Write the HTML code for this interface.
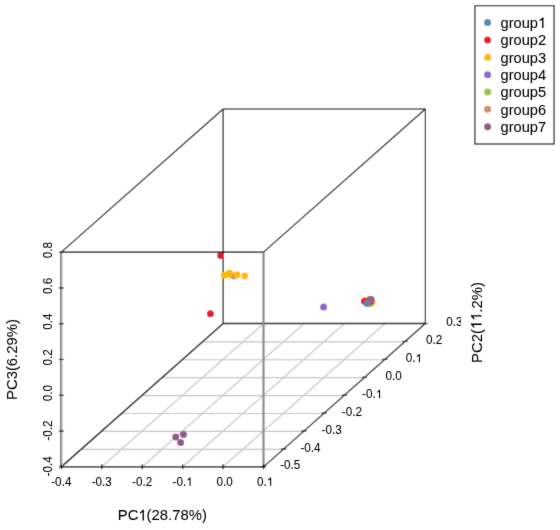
<!DOCTYPE html>
<html><head><meta charset="utf-8"><style>
html,body{margin:0;padding:0;background:#fff;width:560px;height:530px;overflow:hidden}
svg{display:block;will-change:transform}
.t text{font-family:"Liberation Sans",sans-serif;fill:#000;stroke:#000;stroke-width:0.05px}
.t .h{fill:transparent;stroke:none}
.t path{fill:#000;stroke:#000;stroke-width:0.05px}
</style></head><body>
<svg width="560" height="530" viewBox="0 0 560 530">
<defs><clipPath id="clipR"><rect x="0" y="0" width="461" height="530"/></clipPath>
<filter id="b" x="0" y="0" width="560" height="530" filterUnits="userSpaceOnUse"><feConvolveMatrix order="3" kernelMatrix="0.0144 0.0912 0.0144 0.0912 0.5776 0.0912 0.0144 0.0912 0.0144" edgeMode="duplicate" preserveAlpha="false"/></filter>
<filter id="bt" x="0" y="0" width="560" height="530" filterUnits="userSpaceOnUse"><feConvolveMatrix order="3" kernelMatrix="0.0064 0.0672 0.0064 0.0672 0.7056 0.0672 0.0064 0.0672 0.0064" edgeMode="none" preserveAlpha="false"/></filter></defs>
<g filter="url(#b)">
<rect width="560" height="530" fill="#fff"/>
<line x1="81.53" y1="449.33" x2="283.73" y2="449.33" stroke="#c4c4c4" stroke-width="1.2"/>
<line x1="101.76" y1="431.41" x2="303.97" y2="431.41" stroke="#c4c4c4" stroke-width="1.2"/>
<line x1="121.99" y1="413.49" x2="324.20" y2="413.49" stroke="#c4c4c4" stroke-width="1.2"/>
<line x1="142.23" y1="395.57" x2="344.44" y2="395.57" stroke="#c4c4c4" stroke-width="1.2"/>
<line x1="162.46" y1="377.66" x2="364.67" y2="377.66" stroke="#c4c4c4" stroke-width="1.2"/>
<line x1="182.69" y1="359.74" x2="384.90" y2="359.74" stroke="#c4c4c4" stroke-width="1.2"/>
<line x1="202.92" y1="341.82" x2="405.14" y2="341.82" stroke="#c4c4c4" stroke-width="1.2"/>
<line x1="101.74" y1="466.85" x2="263.59" y2="323.50" stroke="#cacaca" stroke-width="1.3"/>
<line x1="142.18" y1="466.85" x2="304.04" y2="323.50" stroke="#cacaca" stroke-width="1.3"/>
<line x1="182.62" y1="466.85" x2="344.48" y2="323.50" stroke="#cacaca" stroke-width="1.3"/>
<line x1="223.06" y1="466.85" x2="384.93" y2="323.50" stroke="#cacaca" stroke-width="1.3"/>
<line x1="223.15" y1="109.00" x2="425.37" y2="109.00" stroke="#000" stroke-width="1.15"/>
<line x1="223.15" y1="109.00" x2="223.15" y2="323.50" stroke="#000" stroke-width="1.15"/>
<line x1="425.37" y1="109.00" x2="425.37" y2="323.50" stroke="#000" stroke-width="1.15"/>
<line x1="223.15" y1="323.50" x2="425.37" y2="323.50" stroke="#000" stroke-width="1.3"/>
<line x1="61.30" y1="466.85" x2="223.15" y2="323.50" stroke="#000" stroke-width="1.45"/>
<circle cx="220.60" cy="255.40" r="3.5" fill="#e31a2c"/>
<circle cx="210.40" cy="313.70" r="3.5" fill="#e31a2c"/>
<circle cx="233.70" cy="276.00" r="3.5" fill="#cd9173"/>
<circle cx="224.30" cy="275.30" r="3.5" fill="#ffb900"/>
<circle cx="227.50" cy="274.50" r="3.5" fill="#ffb900"/>
<circle cx="229.50" cy="273.10" r="3.5" fill="#ffb900"/>
<circle cx="237.10" cy="274.70" r="3.5" fill="#ffb900"/>
<circle cx="244.80" cy="275.90" r="3.5" fill="#ffb900"/>
<circle cx="323.60" cy="307.00" r="3.5" fill="#9664cc"/>
<circle cx="371.90" cy="302.00" r="3.5" fill="#ffb900"/>
<circle cx="365.30" cy="300.40" r="3.5" fill="#ffb900"/>
<circle cx="370.60" cy="303.50" r="3.5" fill="#a0c43a"/>
<circle cx="371.30" cy="299.40" r="3.5" fill="#5a89b0"/>
<circle cx="370.40" cy="301.60" r="3.5" fill="#e31a2c"/>
<circle cx="370.00" cy="299.60" r="3.5" fill="#cd9173" fill-opacity="0.7"/>
<circle cx="370.10" cy="299.30" r="3.5" fill="#8f5a87" fill-opacity="0.75"/>
<circle cx="364.40" cy="301.20" r="3.5" fill="#e31a2c"/>
<circle cx="367.00" cy="303.50" r="3.5" fill="#5a89b0"/>
<circle cx="175.70" cy="437.10" r="3.5" fill="#8f5a87"/>
<circle cx="183.50" cy="434.50" r="3.5" fill="#8f5a87"/>
<circle cx="180.60" cy="442.40" r="3.5" fill="#8f5a87"/>
<line x1="61.30" y1="252.15" x2="263.50" y2="252.15" stroke="#000" stroke-width="1.15"/>
<line x1="60.90" y1="252.15" x2="60.90" y2="466.85" stroke="#0a0a0a" stroke-width="1.0"/>
<line x1="62.30" y1="252.15" x2="62.30" y2="466.85" stroke="#d0d0d0" stroke-width="1.2"/>
<line x1="61.30" y1="466.85" x2="263.50" y2="466.85" stroke="#000" stroke-width="1.4"/>
<line x1="263.50" y1="252.15" x2="263.50" y2="466.85" stroke="#8a8a8a" stroke-width="2.2"/>
<line x1="61.30" y1="252.15" x2="223.15" y2="109.00" stroke="#000" stroke-width="1.2"/>
<line x1="263.50" y1="252.15" x2="425.37" y2="109.00" stroke="#000" stroke-width="1.2"/>
<line x1="263.50" y1="466.85" x2="425.37" y2="323.50" stroke="#000" stroke-width="1.2"/>
<line x1="61.30" y1="464.35" x2="61.30" y2="469.35" stroke="#000" stroke-width="1.15"/>
<line x1="101.74" y1="464.35" x2="101.74" y2="469.35" stroke="#000" stroke-width="1.15"/>
<line x1="142.18" y1="464.35" x2="142.18" y2="469.35" stroke="#000" stroke-width="1.15"/>
<line x1="182.62" y1="464.35" x2="182.62" y2="469.35" stroke="#000" stroke-width="1.15"/>
<line x1="223.06" y1="464.35" x2="223.06" y2="469.35" stroke="#000" stroke-width="1.15"/>
<line x1="263.50" y1="464.35" x2="263.50" y2="469.35" stroke="#000" stroke-width="1.15"/>
<line x1="59.00" y1="466.85" x2="63.60" y2="466.85" stroke="#000" stroke-width="1.15"/>
<line x1="59.00" y1="431.07" x2="63.60" y2="431.07" stroke="#000" stroke-width="1.15"/>
<line x1="59.00" y1="395.28" x2="63.60" y2="395.28" stroke="#000" stroke-width="1.15"/>
<line x1="59.00" y1="359.50" x2="63.60" y2="359.50" stroke="#000" stroke-width="1.15"/>
<line x1="59.00" y1="323.72" x2="63.60" y2="323.72" stroke="#000" stroke-width="1.15"/>
<line x1="59.00" y1="287.93" x2="63.60" y2="287.93" stroke="#000" stroke-width="1.15"/>
<line x1="59.00" y1="252.15" x2="63.60" y2="252.15" stroke="#000" stroke-width="1.15"/>
<line x1="261.00" y1="466.85" x2="266.00" y2="466.85" stroke="#000" stroke-width="1.15"/>
<line x1="281.23" y1="448.93" x2="286.23" y2="448.93" stroke="#000" stroke-width="1.15"/>
<line x1="301.47" y1="431.01" x2="306.47" y2="431.01" stroke="#000" stroke-width="1.15"/>
<line x1="321.70" y1="413.09" x2="326.70" y2="413.09" stroke="#000" stroke-width="1.15"/>
<line x1="341.94" y1="395.18" x2="346.94" y2="395.18" stroke="#000" stroke-width="1.15"/>
<line x1="362.17" y1="377.26" x2="367.17" y2="377.26" stroke="#000" stroke-width="1.15"/>
<line x1="382.40" y1="359.34" x2="387.40" y2="359.34" stroke="#000" stroke-width="1.15"/>
<line x1="402.64" y1="341.42" x2="407.64" y2="341.42" stroke="#000" stroke-width="1.15"/>
<line x1="422.87" y1="323.50" x2="427.87" y2="323.50" stroke="#000" stroke-width="1.15"/>
<rect x="474.9" y="5.7" width="79.17" height="138.3" fill="none" stroke="#000" stroke-width="1.1"/>
<circle cx="487.60" cy="22.60" r="3.5" fill="#5a89b0"/>
<circle cx="487.60" cy="39.95" r="3.5" fill="#e31a2c"/>
<circle cx="487.60" cy="57.30" r="3.5" fill="#ffb900"/>
<circle cx="487.60" cy="74.65" r="3.5" fill="#9664cc"/>
<circle cx="487.60" cy="92.00" r="3.5" fill="#a0c43a"/>
<circle cx="487.60" cy="109.35" r="3.5" fill="#cd9173"/>
<circle cx="487.60" cy="126.70" r="3.5" fill="#8f5a87"/>
</g>
<g class="t" filter="url(#bt)"><g transform="translate(61.30 485.80) scale(1 1.035)"><text id="t0" x="0" y="0" font-size="11.73" text-anchor="middle">-0.4</text></g>
<g transform="translate(101.74 485.80) scale(1 1.035)"><text id="t1" x="0" y="0" font-size="11.73" text-anchor="middle">-0.3</text></g>
<g transform="translate(142.18 485.80) scale(1 1.035)"><text id="t2" x="0" y="0" font-size="11.73" text-anchor="middle">-0.2</text></g>
<g transform="translate(182.62 485.80) scale(1 1.035)"><text id="t3" x="0" y="0" font-size="11.73" text-anchor="middle">-0.<tspan class="h">1</tspan></text><path d="M7.95 0.00 L6.92 0.00 L6.92 -6.35 L4.85 -5.15 L4.85 -6.09 L7.28 -8.11 L7.95 -8.11 Z"/></g>
<g transform="translate(223.06 485.80) scale(1 1.035)"><text id="t4" x="0" y="0" font-size="11.73" text-anchor="middle"> 0.0</text></g>
<g transform="translate(263.50 485.80) scale(1 1.035)"><text id="t5" x="0" y="0" font-size="11.73" text-anchor="middle"> 0.<tspan class="h">1</tspan></text><path d="M7.63 0.00 L6.59 0.00 L6.59 -6.35 L4.53 -5.15 L4.53 -6.09 L6.96 -8.11 L7.63 -8.11 Z"/></g>
<g transform="translate(51.70 466.35) rotate(-90) scale(1 1.035)"><text id="t6" x="0" y="0" font-size="11.73" text-anchor="middle">-0.4</text></g>
<g transform="translate(51.70 430.57) rotate(-90) scale(1 1.035)"><text id="t7" x="0" y="0" font-size="11.73" text-anchor="middle">-0.2</text></g>
<g transform="translate(51.70 394.78) rotate(-90) scale(1 1.035)"><text id="t8" x="0" y="0" font-size="11.73" text-anchor="middle"> 0.0</text></g>
<g transform="translate(51.70 359.00) rotate(-90) scale(1 1.035)"><text id="t9" x="0" y="0" font-size="11.73" text-anchor="middle"> 0.2</text></g>
<g transform="translate(51.70 323.22) rotate(-90) scale(1 1.035)"><text id="t10" x="0" y="0" font-size="11.73" text-anchor="middle"> 0.4</text></g>
<g transform="translate(51.70 287.43) rotate(-90) scale(1 1.035)"><text id="t11" x="0" y="0" font-size="11.73" text-anchor="middle"> 0.6</text></g>
<g transform="translate(51.70 251.65) rotate(-90) scale(1 1.035)"><text id="t12" x="0" y="0" font-size="11.73" text-anchor="middle"> 0.8</text></g>
<g transform="translate(280.20 468.95) scale(1 1.035)"><text id="t13" x="0" y="0" font-size="11.73" text-anchor="start">-0.5</text></g>
<g transform="translate(300.43 451.93) scale(1 1.035)"><text id="t14" x="0" y="0" font-size="11.73" text-anchor="start">-0.4</text></g>
<g transform="translate(321.57 434.01) scale(1 1.035)"><text id="t15" x="0" y="0" font-size="11.73" text-anchor="start">-0.3</text></g>
<g transform="translate(341.80 416.09) scale(1 1.035)"><text id="t16" x="0" y="0" font-size="11.73" text-anchor="start">-0.2</text></g>
<g transform="translate(362.04 398.18) scale(1 1.035)"><text id="t17" x="0" y="0" font-size="11.73" text-anchor="start">-0.<tspan class="h">1</tspan></text><path d="M18.05 0.00 L17.02 0.00 L17.02 -6.35 L14.96 -5.15 L14.96 -6.09 L17.38 -8.11 L18.05 -8.11 Z"/></g>
<g transform="translate(382.27 380.26) scale(1 1.035)"><text id="t18" x="0" y="0" font-size="11.73" text-anchor="start"> 0.0</text></g>
<g transform="translate(402.50 362.34) scale(1 1.035)"><text id="t19" x="0" y="0" font-size="11.73" text-anchor="start"> 0.<tspan class="h">1</tspan></text><path d="M17.41 0.00 L16.37 0.00 L16.37 -6.35 L14.31 -5.15 L14.31 -6.09 L16.74 -8.11 L17.41 -8.11 Z"/></g>
<g transform="translate(422.74 344.42) scale(1 1.035)"><text id="t20" x="0" y="0" font-size="11.73" text-anchor="start"> 0.2</text></g>
<g clip-path="url(#clipR)"><g transform="translate(442.97 325.60) scale(1 1.035)"><text id="t21" x="0" y="0" font-size="11.73" text-anchor="start"> 0.3</text></g></g>
<g transform="translate(162.30 520.40) scale(1 1.035)"><text id="t22" x="0" y="0" font-size="14.85" text-anchor="middle">PC<tspan class="h">1</tspan>(28.78%)</text><path d="M-18.40 0.00 L-19.71 0.00 L-19.71 -8.04 L-22.32 -6.52 L-22.32 -7.71 L-19.25 -10.27 L-18.40 -10.27 Z"/></g>
<g transform="translate(16.90 359.55) rotate(-90) scale(1 1.035)"><text id="t23" x="0" y="0" font-size="14.85" text-anchor="middle">PC3(6.29%)</text></g>
<g transform="translate(481.60 322.50) rotate(-90) scale(1 1.035)"><text id="t24" x="0" y="0" font-size="14.85" text-anchor="middle">PC2(<tspan class="h">1</tspan><tspan class="h">1</tspan>.2%)</text><path d="M-1.08 0.00 L-2.38 0.00 L-2.38 -8.04 L-4.99 -6.52 L-4.99 -7.71 L-1.93 -10.27 L-1.08 -10.27 Z"/><path d="M7.18 0.00 L5.88 0.00 L5.88 -8.04 L3.27 -6.52 L3.27 -7.71 L6.33 -10.27 L7.18 -10.27 Z"/></g>
<g transform="translate(500.50 27.95)"><text id="t25" x="0" y="0" font-size="14.67" text-anchor="start">group<tspan class="h">1</tspan></text><path d="M42.97 0.00 L41.68 0.00 L41.68 -8.22 L39.10 -6.66 L39.10 -7.88 L42.13 -10.50 L42.97 -10.50 Z"/></g>
<g transform="translate(500.50 45.30)"><text id="t26" x="0" y="0" font-size="14.67" text-anchor="start">group2</text></g>
<g transform="translate(500.50 62.65)"><text id="t27" x="0" y="0" font-size="14.67" text-anchor="start">group3</text></g>
<g transform="translate(500.50 80.00)"><text id="t28" x="0" y="0" font-size="14.67" text-anchor="start">group4</text></g>
<g transform="translate(500.50 97.35)"><text id="t29" x="0" y="0" font-size="14.67" text-anchor="start">group5</text></g>
<g transform="translate(500.50 114.70)"><text id="t30" x="0" y="0" font-size="14.67" text-anchor="start">group6</text></g>
<g transform="translate(500.50 132.05)"><text id="t31" x="0" y="0" font-size="14.67" text-anchor="start">group7</text></g></g>
</svg>
</body></html>
